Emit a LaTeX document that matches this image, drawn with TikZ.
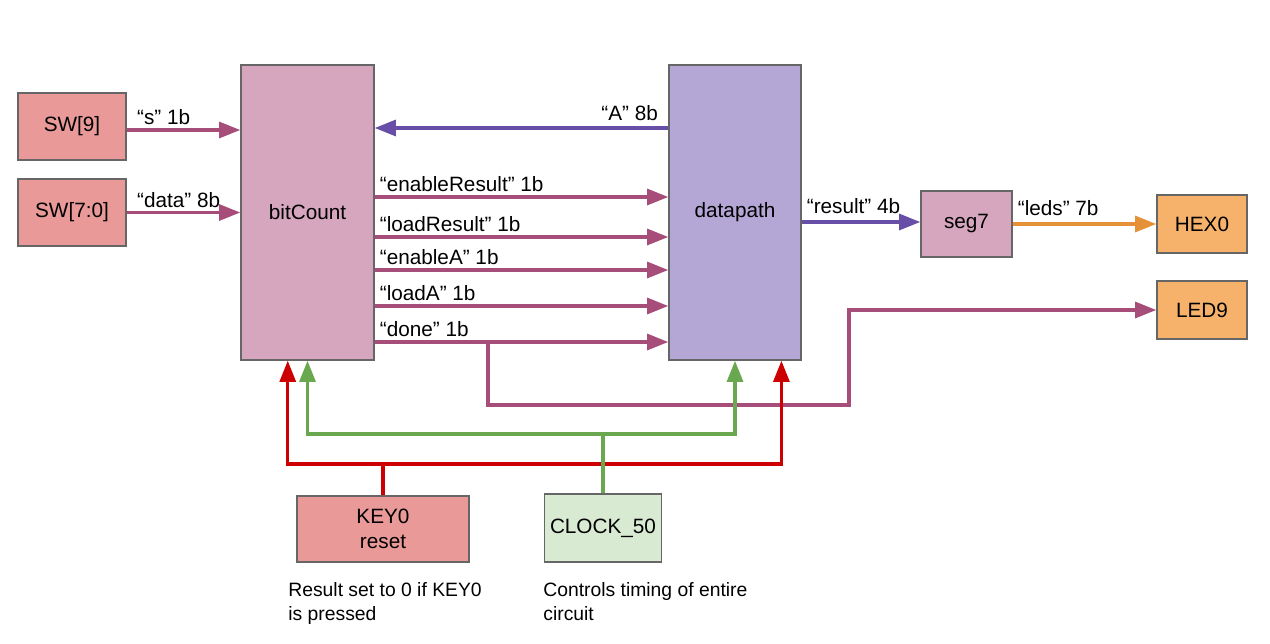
\documentclass[tikz,border=0pt]{standalone}
\usepackage{fontspec}
\setmainfont{Liberation Sans}
\usepackage{tikz}
\usetikzlibrary{arrows.meta,positioning,calc}

\definecolor{swred}{HTML}{EA9999}
\definecolor{fsmpink}{HTML}{D5A6BD}
\definecolor{dppurple}{HTML}{B4A7D6}
\definecolor{outorange}{HTML}{F6B26B}
\definecolor{clkgreen}{HTML}{D9EAD3}
\definecolor{boxgray}{HTML}{666666}
\definecolor{wiremag}{HTML}{A64D79}
\definecolor{wirepurple}{HTML}{674EA7}
\definecolor{wireorange}{HTML}{E69138}
\definecolor{wirered}{HTML}{CC0000}
\definecolor{wiregreen}{HTML}{6AA84F}

\begin{document}
\begin{tikzpicture}[
x=0.02cm, y=-0.02cm,
font=\fontsize{11.8}{14}\selectfont,
block/.style={draw=boxgray, line width=0.8pt, inner sep=0pt, align=center},
wire/.style={-{Triangle[length=12pt,width=9pt]}, line width=1.9pt},
sig/.style={wire, color=wiremag},
bus/.style={wire, color=wirepurple},
rst/.style={wire, color=wirered},
clk/.style={wire, color=wiregreen},
lbl/.style={above right, inner xsep=2pt, inner ysep=2pt, text=black},
note/.style={anchor=north west, align=left, inner sep=0pt, font=\fontsize{11}{13.6}\selectfont}]
    % Canvas
    \useasboundingbox (0,0) rectangle (1270,643);

    % Inputs
    \node[block, fill=swred, minimum width=2.16cm, minimum height=1.34cm] (SW9) at (72,126.5) {SW[9]};
    \node[block, fill=swred, minimum width=2.16cm, minimum height=1.34cm] (SW70) at (72,212.5) {SW[7:0]};

    % Main blocks
    \node[block, fill=fsmpink, minimum width=2.66cm, minimum height=5.9cm] (bitCount) at (307.5,212.5) {bitCount};
    \node[block, fill=dppurple, minimum width=2.64cm, minimum height=5.9cm] (datapath) at (735,212.5) {datapath};
    \node[block, fill=fsmpink, minimum width=1.82cm, minimum height=1.32cm] (seg7) at (966.5,224) {seg7};

    % Outputs
    \node[block, fill=outorange, minimum width=1.8cm, minimum height=1.16cm] (HEX0) at (1202,224) {HEX0};
    \node[block, fill=outorange, minimum width=1.8cm, minimum height=1.16cm] (LED9) at (1202,310) {LED9};

    % Reset and clock
    \node[block, fill=swred, minimum width=3.44cm, minimum height=1.32cm] (KEY0) at (383,529) {KEY0\\reset};
    \node[block, fill=clkgreen, minimum width=2.34cm, minimum height=1.36cm] (CLK) at (603,528) {CLOCK\_50};

    \node[note] (keynote) at (288,582) {Result set to 0 if KEY0\\is pressed};
    \node[note] (clknote) at (543,582) {Controls timing of entire\\circuit};

    % Switch inputs
    \draw[sig] (SW9.east |- 0,130) -- (bitCount.west |- 0,130) node[lbl, pos=0, xshift=3pt] {“s” 1b};
    \draw[sig] (SW70.east) -- (SW70.east -| bitCount.west) node[lbl, pos=0, xshift=3pt] {“data” 8b};

    % Feedback from datapath
    \draw[bus] (datapath.west |- 0,128) -- (bitCount.east |- 0,128) node[above left, pos=0, inner xsep=5pt, inner ysep=3pt, text=black] {“A” 8b};

    % Control signals
    \draw[sig] (bitCount.east |- 0,197) -- (datapath.west |- 0,197) node[lbl, pos=0] {“enableResult” 1b};
    \draw[sig] (bitCount.east |- 0,237) -- (datapath.west |- 0,237) node[lbl, pos=0] {“loadResult” 1b};
    \draw[sig] (bitCount.east |- 0,270) -- (datapath.west |- 0,270) node[lbl, pos=0] {“enableA” 1b};
    \draw[sig] (bitCount.east |- 0,306) -- (datapath.west |- 0,306) node[lbl, pos=0] {“loadA” 1b};
    \draw[sig] (bitCount.east |- 0,342) -- (datapath.west |- 0,342) node[lbl, pos=0] {“done” 1b};

    % done to LED9
    \coordinate (donetap) at (488,342);
    \coordinate (doneturn) at (849,405);
    \draw[sig] (donetap) |- (doneturn) |- (LED9.west);

    % Result to display
    \draw[bus] (datapath.east |- 0,222) -- (seg7.west |- 0,222) node[lbl, pos=0, inner ysep=4pt] {“result” 4b};
    \draw[wire, color=wireorange] (seg7.east) -- (HEX0.west) node[lbl, pos=0, inner ysep=4pt] {“leds” 7b};

    % Reset lines
    \coordinate (rstbus) at (0,464);
    \coordinate (rstL) at ($(bitCount.south west)!0.353!(bitCount.south east)$);
    \coordinate (rstR) at ($(datapath.south west)!0.848!(datapath.south east)$);
    \draw[rst] (KEY0.north) -- (KEY0.north |- rstbus) -| (rstL);
    \draw[rst] (KEY0.north |- rstbus) -| (rstR);

    % Clock lines
    \coordinate (clkbus) at (0,434);
    \draw[clk] (CLK.north) -- (CLK.north |- clkbus) -| (bitCount.south);
    \draw[clk] (CLK.north |- clkbus) -| (datapath.south);
\end{tikzpicture}
\end{document}
